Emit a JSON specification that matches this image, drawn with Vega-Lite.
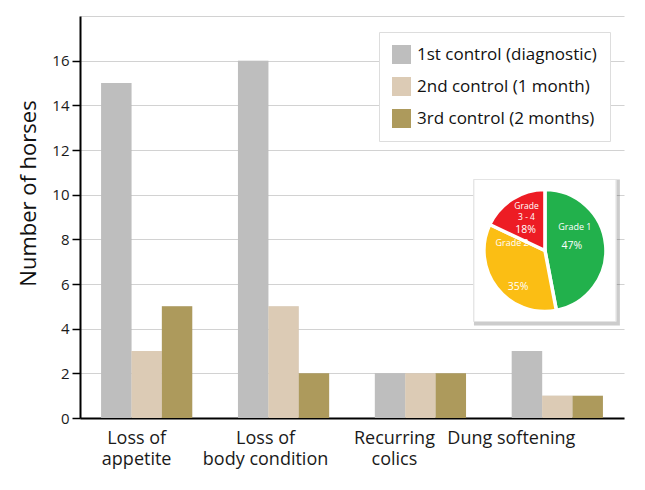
{
  "$schema": "https://vega.github.io/schema/vega-lite/v6.json",
  "width": 544,
  "height": 402,
  "autosize": {"type": "none"},
  "padding": {"left": 80, "top": 16, "right": 21, "bottom": 72},
  "background": "white",
  "config": {"font": "Open Sans", "view": {"stroke": null}},
  "datasets": {
    "symptoms": [
      {"symptom": "Loss of appetite", "control": "1st control (diagnostic)", "horses": 15},
      {"symptom": "Loss of appetite", "control": "2nd control (1 month)", "horses": 3},
      {"symptom": "Loss of appetite", "control": "3rd control (2 months)", "horses": 5},
      {"symptom": "Loss of body condition", "control": "1st control (diagnostic)", "horses": 16},
      {"symptom": "Loss of body condition", "control": "2nd control (1 month)", "horses": 5},
      {"symptom": "Loss of body condition", "control": "3rd control (2 months)", "horses": 2},
      {"symptom": "Recurring colics", "control": "1st control (diagnostic)", "horses": 2},
      {"symptom": "Recurring colics", "control": "2nd control (1 month)", "horses": 2},
      {"symptom": "Recurring colics", "control": "3rd control (2 months)", "horses": 2},
      {"symptom": "Dung softening", "control": "1st control (diagnostic)", "horses": 3},
      {"symptom": "Dung softening", "control": "2nd control (1 month)", "horses": 1},
      {"symptom": "Dung softening", "control": "3rd control (2 months)", "horses": 1}
    ],
    "grades": [
      {"grade": "Grade 1", "label": "Grade 1", "pct": 47, "pctLabel": "47%", "order": 1},
      {"grade": "Grade 2", "label": "Grade 2", "pct": 35, "pctLabel": "35%", "order": 2},
      {"grade": "Grade 3 - 4", "label": "Grade\n3 - 4", "pct": 18, "pctLabel": "18%", "order": 3}
    ]
  },
  "layer": [
    {
      "data": {"name": "symptoms"},
      "mark": {"type": "bar", "color": "#777777", "opacity": 0.18, "xOffset": 4},
      "encoding": {
        "x": {"field": "symptom", "type": "nominal",
          "scale": {"domain": ["Loss of appetite", "Loss of body condition", "Recurring colics", "Dung softening"], "paddingInner": 0.334, "paddingOuter": 0.154},
          "axis": {
            "title": null, "domainColor": "black", "domainWidth": 2, "ticks": false,
            "labelFontSize": 18, "labelColor": "#1a1a1a", "labelAngle": 0, "labelPadding": 11,
            "labelLineHeight": 21, "labelBaseline": "top", "labelLimit": 300,
            "labelExpr": "datum.value == 'Loss of appetite' ? ['Loss of','appetite'] : datum.value == 'Loss of body condition' ? ['Loss of','body condition'] : datum.value == 'Recurring colics' ? ['Recurring','colics'] : datum.label",
            "labelOffset": {"condition": [
              {"test": "datum.value == 'Loss of appetite'", "value": -10},
              {"test": "datum.value == 'Loss of body condition'", "value": -18},
              {"test": "datum.value == 'Recurring colics'", "value": -26}
            ], "value": -46}
          }
        },
        "xOffset": {"field": "control", "type": "nominal",
          "scale": {"domain": ["1st control (diagnostic)", "2nd control (1 month)", "3rd control (2 months)"], "paddingInner": 0, "paddingOuter": 0}},
        "y": {"field": "horses", "type": "quantitative",
          "scale": {"domain": [0, 18], "nice": false},
          "axis": {
            "values": [0, 2, 4, 6, 8, 10, 12, 14, 16, 18],
            "labelExpr": "datum.value == 18 ? '' : datum.label",
            "tickOpacity": {"condition": {"test": "datum.value == 18", "value": 0}, "value": 1},
            "grid": true, "gridColor": "#d2d2d2", "gridWidth": 1.2,
            "domainColor": "black", "domainWidth": 2,
            "tickColor": "black", "tickSize": 8, "tickWidth": 1.5,
            "labelFontSize": 15, "labelColor": "#1a1a1a", "labelPadding": 3,
            "title": "Number of horses", "titleFontSize": 22, "titleFontWeight": "normal",
            "titleColor": "#111111", "titleX": -52, "titleY": 177,
            "titleAlign": "center", "titleBaseline": "middle"
          }
        }
      }
    },
    {
      "data": {"name": "symptoms"},
      "mark": {"type": "bar"},
      "encoding": {
        "x": {"field": "symptom", "type": "nominal"},
        "xOffset": {"field": "control", "type": "nominal"},
        "y": {"field": "horses", "type": "quantitative"},
        "color": {"field": "control", "type": "nominal",
          "scale": {"domain": ["1st control (diagnostic)", "2nd control (1 month)", "3rd control (2 months)"], "range": ["#bebebe", "#dccbb5", "#ad9a5c"]},
          "legend": {
            "title": null, "orient": "none", "legendX": 299, "legendY": 16,
            "symbolType": "square", "symbolSize": 361, "symbolStrokeWidth": 0, "symbolOpacity": 1,
            "labelFontSize": 17, "labelColor": "#111111", "labelOffset": 6, "labelLimit": 300,
            "fillColor": "white", "strokeColor": "#dddddd", "padding": 13, "rowPadding": 13
          }
        }
      }
    },
    {
      "data": {"name": "grades"},
      "mark": {"type": "point", "shape": "square", "filled": true, "color": "#000000", "opacity": 0.07, "size": 21316, "xOffset": 2, "yOffset": 2},
      "encoding": {
        "x": {"datum": "Dung softening", "type": "nominal", "bandPosition": 0.364},
        "y": {"datum": 7.5, "type": "quantitative"}
      }
    },
    {
      "data": {"name": "grades"},
      "mark": {"type": "point", "shape": "square", "filled": true, "color": "white", "opacity": 1, "size": 20164, "stroke": "#e4e4e4", "strokeWidth": 1},
      "encoding": {
        "x": {"datum": "Dung softening", "type": "nominal", "bandPosition": 0.364},
        "y": {"datum": 7.5, "type": "quantitative"}
      }
    },
    {
      "data": {"name": "grades"},
      "mark": {"type": "arc", "outerRadius": 61, "stroke": "white", "strokeWidth": 3.5},
      "encoding": {
        "theta": {"field": "pct", "type": "quantitative", "stack": true},
        "order": {"field": "order", "type": "quantitative"},
        "color": {"field": "grade", "type": "nominal",
          "scale": {"domain": ["Grade 1", "Grade 2", "Grade 3 - 4"], "range": ["#22b14c", "#fbbe14", "#ed1c24"]},
          "legend": null},
        "x": {"datum": "Dung softening", "type": "nominal", "bandPosition": 0.364},
        "y": {"datum": 7.5, "type": "quantitative"}
      }
    },
    {
      "data": {"name": "grades"},
      "mark": {"type": "text", "radius": 30, "dy": -21, "fontSize": 9, "color": "white"},
      "encoding": {
        "theta": {"field": "pct", "type": "quantitative", "stack": true},
        "order": {"field": "order", "type": "quantitative"},
        "text": {"condition": {"test": "datum.grade == 'Grade 1'", "field": "label"}, "value": ""},
        "x": {"datum": "Dung softening", "type": "nominal", "bandPosition": 0.364},
        "y": {"datum": 7.5, "type": "quantitative"}
      }
    },
    {
      "data": {"name": "grades"},
      "mark": {"type": "text", "radius": 27, "dy": -2, "fontSize": 10.5, "color": "white"},
      "encoding": {
        "theta": {"field": "pct", "type": "quantitative", "stack": true},
        "order": {"field": "order", "type": "quantitative"},
        "text": {"condition": {"test": "datum.grade == 'Grade 1'", "field": "pctLabel"}, "value": ""},
        "x": {"datum": "Dung softening", "type": "nominal", "bandPosition": 0.364},
        "y": {"datum": 7.5, "type": "quantitative"}
      }
    },
    {
      "data": {"name": "grades"},
      "mark": {"type": "text", "radius": 34, "dx": -6, "dy": -28, "fontSize": 9, "color": "white"},
      "encoding": {
        "theta": {"field": "pct", "type": "quantitative", "stack": true},
        "order": {"field": "order", "type": "quantitative"},
        "text": {"condition": {"test": "datum.grade == 'Grade 2'", "field": "label"}, "value": ""},
        "x": {"datum": "Dung softening", "type": "nominal", "bandPosition": 0.364},
        "y": {"datum": 7.5, "type": "quantitative"}
      }
    },
    {
      "data": {"name": "grades"},
      "mark": {"type": "text", "radius": 44, "dx": 8, "dy": 10, "fontSize": 10.5, "color": "white"},
      "encoding": {
        "theta": {"field": "pct", "type": "quantitative", "stack": true},
        "order": {"field": "order", "type": "quantitative"},
        "text": {"condition": {"test": "datum.grade == 'Grade 2'", "field": "pctLabel"}, "value": ""},
        "x": {"datum": "Dung softening", "type": "nominal", "bandPosition": 0.364},
        "y": {"datum": 7.5, "type": "quantitative"}
      }
    },
    {
      "data": {"name": "grades"},
      "mark": {"type": "text", "radius": 40, "dx": 3, "dy": -11, "fontSize": 8.5, "color": "white", "lineBreak": "\n", "lineHeight": 11},
      "encoding": {
        "theta": {"field": "pct", "type": "quantitative", "stack": true},
        "order": {"field": "order", "type": "quantitative"},
        "text": {"condition": {"test": "datum.grade == 'Grade 3 - 4'", "field": "label"}, "value": ""},
        "x": {"datum": "Dung softening", "type": "nominal", "bandPosition": 0.364},
        "y": {"datum": 7.5, "type": "quantitative"}
      }
    },
    {
      "data": {"name": "grades"},
      "mark": {"type": "text", "radius": 25, "dx": -6, "dy": 1, "fontSize": 10.5, "color": "white"},
      "encoding": {
        "theta": {"field": "pct", "type": "quantitative", "stack": true},
        "order": {"field": "order", "type": "quantitative"},
        "text": {"condition": {"test": "datum.grade == 'Grade 3 - 4'", "field": "pctLabel"}, "value": ""},
        "x": {"datum": "Dung softening", "type": "nominal", "bandPosition": 0.364},
        "y": {"datum": 7.5, "type": "quantitative"}
      }
    }
  ],
  "resolve": {"scale": {"color": "independent"}}
}
